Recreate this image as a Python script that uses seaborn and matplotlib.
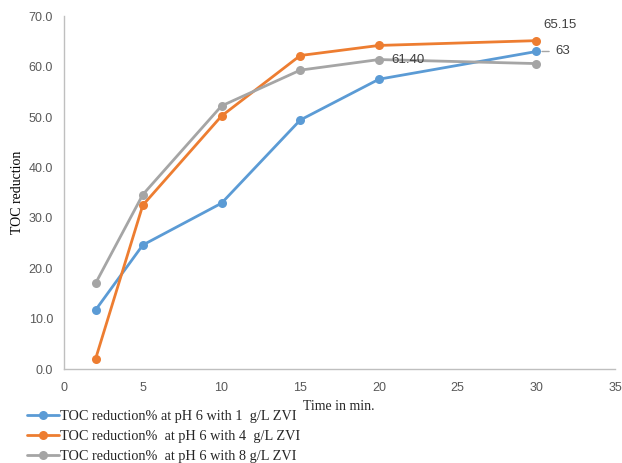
import pandas as pd
import numpy as np
import matplotlib
matplotlib.use("Agg")
import matplotlib.pyplot as plt
import seaborn as sns

time_min = [2, 5, 10, 15, 20, 30]
zvi_1g = [11.7, 24.6, 32.9, 49.4, 57.5, 63.0]
zvi_4g = [2.0, 32.5, 50.2, 62.2, 64.2, 65.15]
zvi_8g = [17.0, 34.6, 52.2, 59.3, 61.4, 60.6]
series_names = [
    "TOC reduction% at pH 6 with 1  g/L ZVI",
    "TOC reduction%  at pH 6 with 4  g/L ZVI",
    "TOC reduction%  at pH 6 with 8 g/L ZVI",
]
colors = ["#5B9BD5", "#ED7D31", "#A5A5A5"]

df = pd.concat([
    pd.DataFrame({"time": time_min, "toc": vals, "series": name})
    for name, vals in zip(series_names, [zvi_1g, zvi_4g, zvi_8g])
])

sns.set_style("white")
plt.rcParams['font.family'] = ['Liberation Sans', 'DejaVu Sans']

fig = plt.figure(figsize=(6.22, 4.63), dpi=100)
ax = fig.add_axes([0.103, 0.203, 0.886, 0.762])

sns.lineplot(data=df, x="time", y="toc", hue="series", palette=colors,
             marker="o", markersize=6.5, markeredgewidth=0, linewidth=2,
             ax=ax, legend=True)

ax.set_xlim(0, 35)
ax.set_ylim(0, 70)
ax.set_xticks(np.arange(0, 36, 5))
ax.set_yticks(np.arange(0, 71, 10))
ax.set_yticklabels([f"{v:.1f}" for v in np.arange(0, 71, 10)])
ax.tick_params(axis="both", length=0, labelsize=9, labelcolor="#595959")
ax.tick_params(axis="x", pad=9)
ax.tick_params(axis="y", pad=8)

for side in ["top", "right"]:
    ax.spines[side].set_visible(False)
for side in ["left", "bottom"]:
    ax.spines[side].set_color("#BFBFBF")
    ax.spines[side].set_linewidth(1)

ax.set_xlabel("")
ax.set_ylabel("TOC reduction", family="Liberation Serif", fontsize=10, color="black")
ax.yaxis.set_label_coords(-0.072, 0.5)
fig.text(339 / 622, 1 - 407 / 463, "Time in min.", family="Liberation Serif",
         fontsize=10, ha="center", va="center")

# data labels
ax.annotate("65.15", xy=(30, zvi_4g[-1]), xytext=(5, 11.5), textcoords="offset points",
            fontsize=9.5, color="#404040", ha="left", va="center")
ax.annotate("63", xy=(30, zvi_1g[-1]), xytext=(13.5, 0), textcoords="offset points",
            fontsize=9.5, color="#404040", ha="left", va="center",
            arrowprops=dict(arrowstyle="-", color="#A5A5A5", lw=1,
                            shrinkA=2, shrinkB=4))
ax.annotate("61.40", xy=(20, zvi_8g[4]), xytext=(9, 0), textcoords="offset points",
            fontsize=9.5, color="#404040", ha="left", va="center")

handles, labels = ax.get_legend_handles_labels()
ax.get_legend().remove()
fig.legend(handles, labels, loc="upper left",
           bbox_to_anchor=(0.035, 1 - 404 / 463),
           bbox_transform=fig.transFigure, frameon=False,
           prop={"family": "Liberation Serif", "size": 10.3},
           handlelength=2.2, handletextpad=0.05, labelspacing=0.5,
           borderaxespad=0)

fig.savefig("out.png", dpi=100)
